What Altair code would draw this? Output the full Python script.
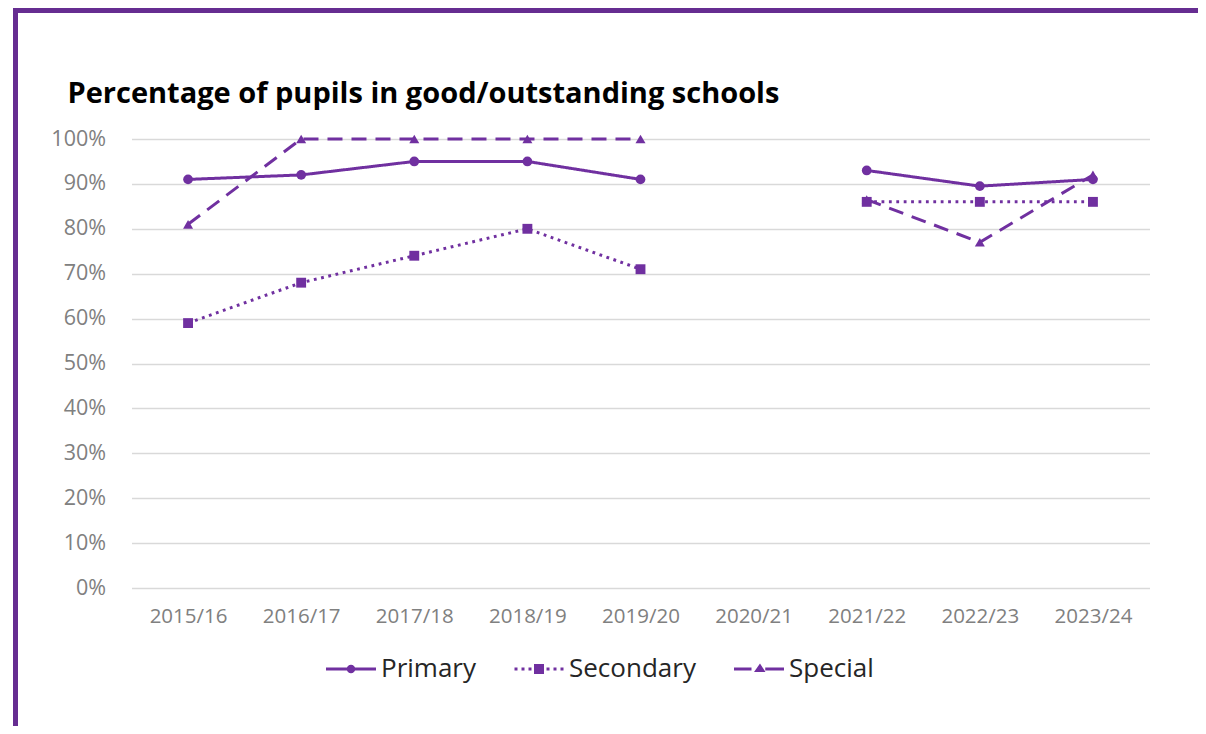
import altair as alt
import pandas as pd

years = ["2015/16", "2016/17", "2017/18", "2018/19", "2019/20",
         "2020/21", "2021/22", "2022/23", "2023/24"]
series_names = ["Primary", "Secondary", "Special"]
primary = [91, 92, 95, 95, 91, None, 93, 89.5, 91]
secondary = [59, 68, 74, 80, 71, None, 86, 86, 86]
special = [81, 100, 100, 100, 100, None, 86.5, 77, 92]
y_ticks = [0, 10, 20, 30, 40, 50, 60, 70, 80, 90, 100]
title_text = "Percentage of pupils in good/outstanding schools"

PURPLE = "#7030A0"
BORDER = "#662D91"

rows = []
for name, vals in zip(series_names, [primary, secondary, special]):
    for i, (yr, v) in enumerate(zip(years, vals)):
        if v is None:
            continue
        rows.append({"year": yr, "series": name, "value": v,
                     "segment": "pre" if i < 5 else "post"})
df = pd.DataFrame(rows)

W, H = 1018, 449
PAD_L, PAD_T = 123.5, 131
TOTAL_W, TOTAL_H = 1190, 718

x_enc = alt.X("year:N", scale=alt.Scale(type="point", domain=years, padding=0.5),
              sort=years, title=None,
              axis=alt.Axis(labelAngle=0, ticks=False, domain=False, grid=False,
                            labelPadding=18, labelFont="Open Sans", labelFontSize=20.5,
                            labelColor="#808080"))
y_enc = alt.Y("value:Q", scale=alt.Scale(domain=[0, 100], nice=False), title=None,
              axis=alt.Axis(values=y_ticks, labelExpr="datum.value + '%'",
                            ticks=False, domain=False, grid=True, gridColor="#d9d9d9",
                            gridWidth=1.3, labelPadding=26, labelFont="Open Sans",
                            labelFontSize=21.5, labelColor="#808080"))

base = alt.Chart(df)

lines = base.mark_line(color=PURPLE, strokeWidth=3).encode(
    x=x_enc, y=y_enc,
    strokeDash=alt.StrokeDash("series:N",
                              scale=alt.Scale(domain=series_names,
                                              range=[[1, 0], [2.8, 4.6], [15, 9]]),
                              legend=None),
    detail="segment:N",
)

points = base.mark_point(filled=True, color=PURPLE, opacity=1).encode(
    x=x_enc, y=y_enc,
    shape=alt.Shape("series:N",
                    scale=alt.Scale(domain=series_names,
                                    range=["circle", "square", "triangle-up"]),
                    legend=None),
    size=alt.Size("series:N", scale=alt.Scale(domain=series_names, range=[95, 100, 115]),
                  legend=None),
)


def bar(x0, x1, h=0.062):
    return f"M{x0},{-h}L{x1},{-h}L{x1},{h}L{x0},{h}Z"


legend_paths = [
    bar(-1, 1) + "M0.17,0A0.17,0.17,0,1,1,-0.17,0A0.17,0.17,0,1,1,0.17,0Z",
    bar(-0.98, -0.86) + bar(-0.70, -0.58) + bar(-0.42, -0.30)
    + "M-0.2,-0.2L0.2,-0.2L0.2,0.2L-0.2,0.2Z"
    + bar(0.30, 0.42) + bar(0.58, 0.70) + bar(0.86, 0.98),
    bar(-1, -0.3) + "M-0.2,0.12L0.04,-0.22L0.26,0.12Z" + bar(0.25, 1),
]

legend_layer = base.mark_point(filled=True, color=PURPLE, size=0).encode(
    x=x_enc, y=y_enc,
    shape=alt.Shape("series:N",
                    scale=alt.Scale(domain=series_names, range=legend_paths),
                    legend=alt.Legend(title=None, orient="none", direction="horizontal",
                                      legendX=194.5, legendY=505,
                                      symbolSize=2500, symbolStrokeWidth=0,
                                      symbolFillColor=PURPLE, symbolOpacity=1,
                                      labelFont="Open Sans", labelFontSize=26,
                                      labelColor="#262626", labelOffset=5,
                                      columnPadding=38)),
)

one = pd.DataFrame({"a": [0]})
left_border = alt.Chart(one).mark_rule(color=BORDER, strokeWidth=5).encode(
    x=alt.value(-116), y=alt.value(-PAD_T), y2=alt.value(TOTAL_H - PAD_T))
top_border = alt.Chart(one).mark_rule(color=BORDER, strokeWidth=5).encode(
    y=alt.value(-PAD_T + 2.5), x=alt.value(-118.5), x2=alt.value(TOTAL_W - PAD_L))
title_mark = alt.Chart(one).mark_text(
    text=title_text, font="Open Sans", fontSize=29, fontWeight="bold",
    color="#000000", align="left", baseline="alphabetic"
).encode(x=alt.value(-64), y=alt.value(-36))

chart = alt.layer(lines, points, legend_layer, left_border, top_border, title_mark
).resolve_scale(
    shape="independent"
).properties(
    width=W, height=H,
    padding={"left": PAD_L, "top": PAD_T, "right": TOTAL_W - PAD_L - W,
             "bottom": TOTAL_H - PAD_T - H},
    autosize=alt.AutoSizeParams(type="none"),
).configure_view(stroke=None)

chart.save("out.html", embed_options={"renderer": "svg", "actions": False})
